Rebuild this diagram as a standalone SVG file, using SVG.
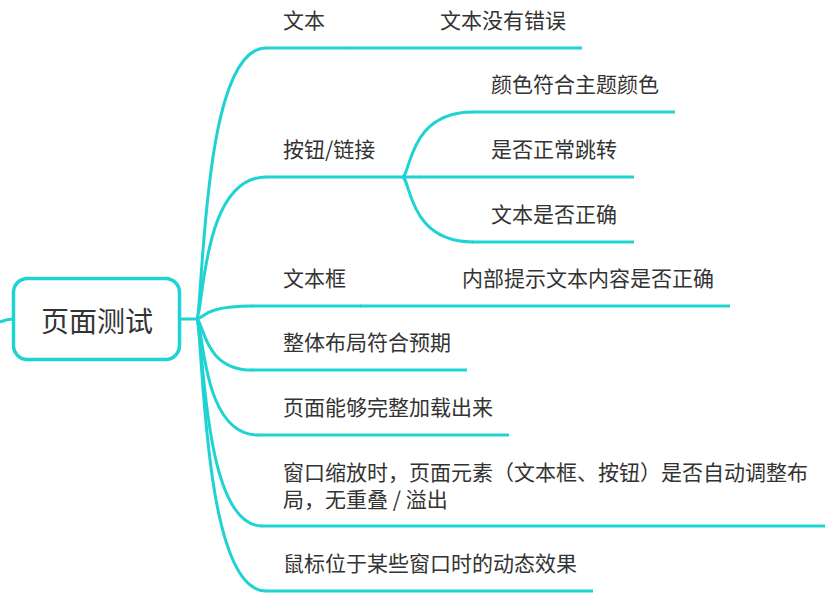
<svg xmlns="http://www.w3.org/2000/svg" width="829" height="599" viewBox="0 0 829 599">
<style>
.c{fill:none;stroke:#1fd3d3;stroke-width:3;stroke-linecap:butt}
.t{font-family:"Microsoft YaHei","Noto Sans CJK SC",sans-serif;font-size:21px;fill:#333}
.r{font-family:"Microsoft YaHei","Noto Sans CJK SC",sans-serif;font-size:28px;fill:#333}
</style>
<rect width="829" height="599" fill="#fff"/>
<g id="connectors">
<path class="c" d="M0,322 Q7,319 13,319"/>
<path class="c" d="M180,319 L196,319"/>
<path class="c" d="M196,319 C204,319 200,48 266,48"/>
<path class="c" d="M196,319 C204,319 200,177 266,177"/>
<path class="c" d="M196,319 C204,319 202,306 252,306"/>
<path class="c" d="M196,319 C204,319 202,370 252,370"/>
<path class="c" d="M196,319 C204,319 200,435 258,435"/>
<path class="c" d="M196,319 C204,319 200,526 262,526"/>
<path class="c" d="M196,319 C204,319 200,591 266,591"/>
<path class="c" d="M402,177 C411,177 407,112 473,112"/>
<path class="c" d="M402,177 L420,177"/>
<path class="c" d="M402,177 C411,177 407,242 473,242"/>
</g>
<g id="root">
<rect x="13.5" y="278.5" width="166" height="81" rx="14" fill="#fff" stroke="#1fd3d3" stroke-width="3.5"/>
<text class="r" x="97" y="332" text-anchor="middle">页面测试</text>
</g>
<g id="n-wenben">
<path class="c" d="M265,48 L346,48"/>
<text class="t" x="283" y="28">文本</text>
</g>
<g id="n-wenben-1">
<path class="c" d="M345,48 L582,48"/>
<text class="t" x="440" y="28">文本没有错误</text>
</g>
<g id="n-anniu">
<path class="c" d="M265,177 L403,177"/>
<text class="t" x="283" y="157">按钮/链接</text>
</g>
<g id="n-anniu-1">
<path class="c" d="M472,112 L675,112"/>
<text class="t" x="491" y="92">颜色符合主题颜色</text>
</g>
<g id="n-anniu-2">
<path class="c" d="M419,177 L634,177"/>
<text class="t" x="491" y="157">是否正常跳转</text>
</g>
<g id="n-anniu-3">
<path class="c" d="M472,242 L634,242"/>
<text class="t" x="491" y="222">文本是否正确</text>
</g>
<g id="n-wenbenkuang">
<path class="c" d="M251,306 L361,306"/>
<text class="t" x="283" y="286">文本框</text>
</g>
<g id="n-wenbenkuang-1">
<path class="c" d="M360,306 L730,306"/>
<text class="t" x="462" y="286">内部提示文本内容是否正确</text>
</g>
<g id="n-buju">
<path class="c" d="M251,370 L467,370"/>
<text class="t" x="283" y="350">整体布局符合预期</text>
</g>
<g id="n-jiazai">
<path class="c" d="M257,435 L509,435"/>
<text class="t" x="283" y="415">页面能够完整加载出来</text>
</g>
<g id="n-suofang">
<path class="c" d="M261,526 L825,526"/>
<text class="t" x="283" y="480">窗口缩放时，页面元素（文本框、按钮）是否自动调整布</text>
<text class="t" x="283" y="507">局，无重叠 / 溢出</text>
</g>
<g id="n-shubiao">
<path class="c" d="M265,591 L593,591"/>
<text class="t" x="283" y="571">鼠标位于某些窗口时的动态效果</text>
</g>
</svg>
